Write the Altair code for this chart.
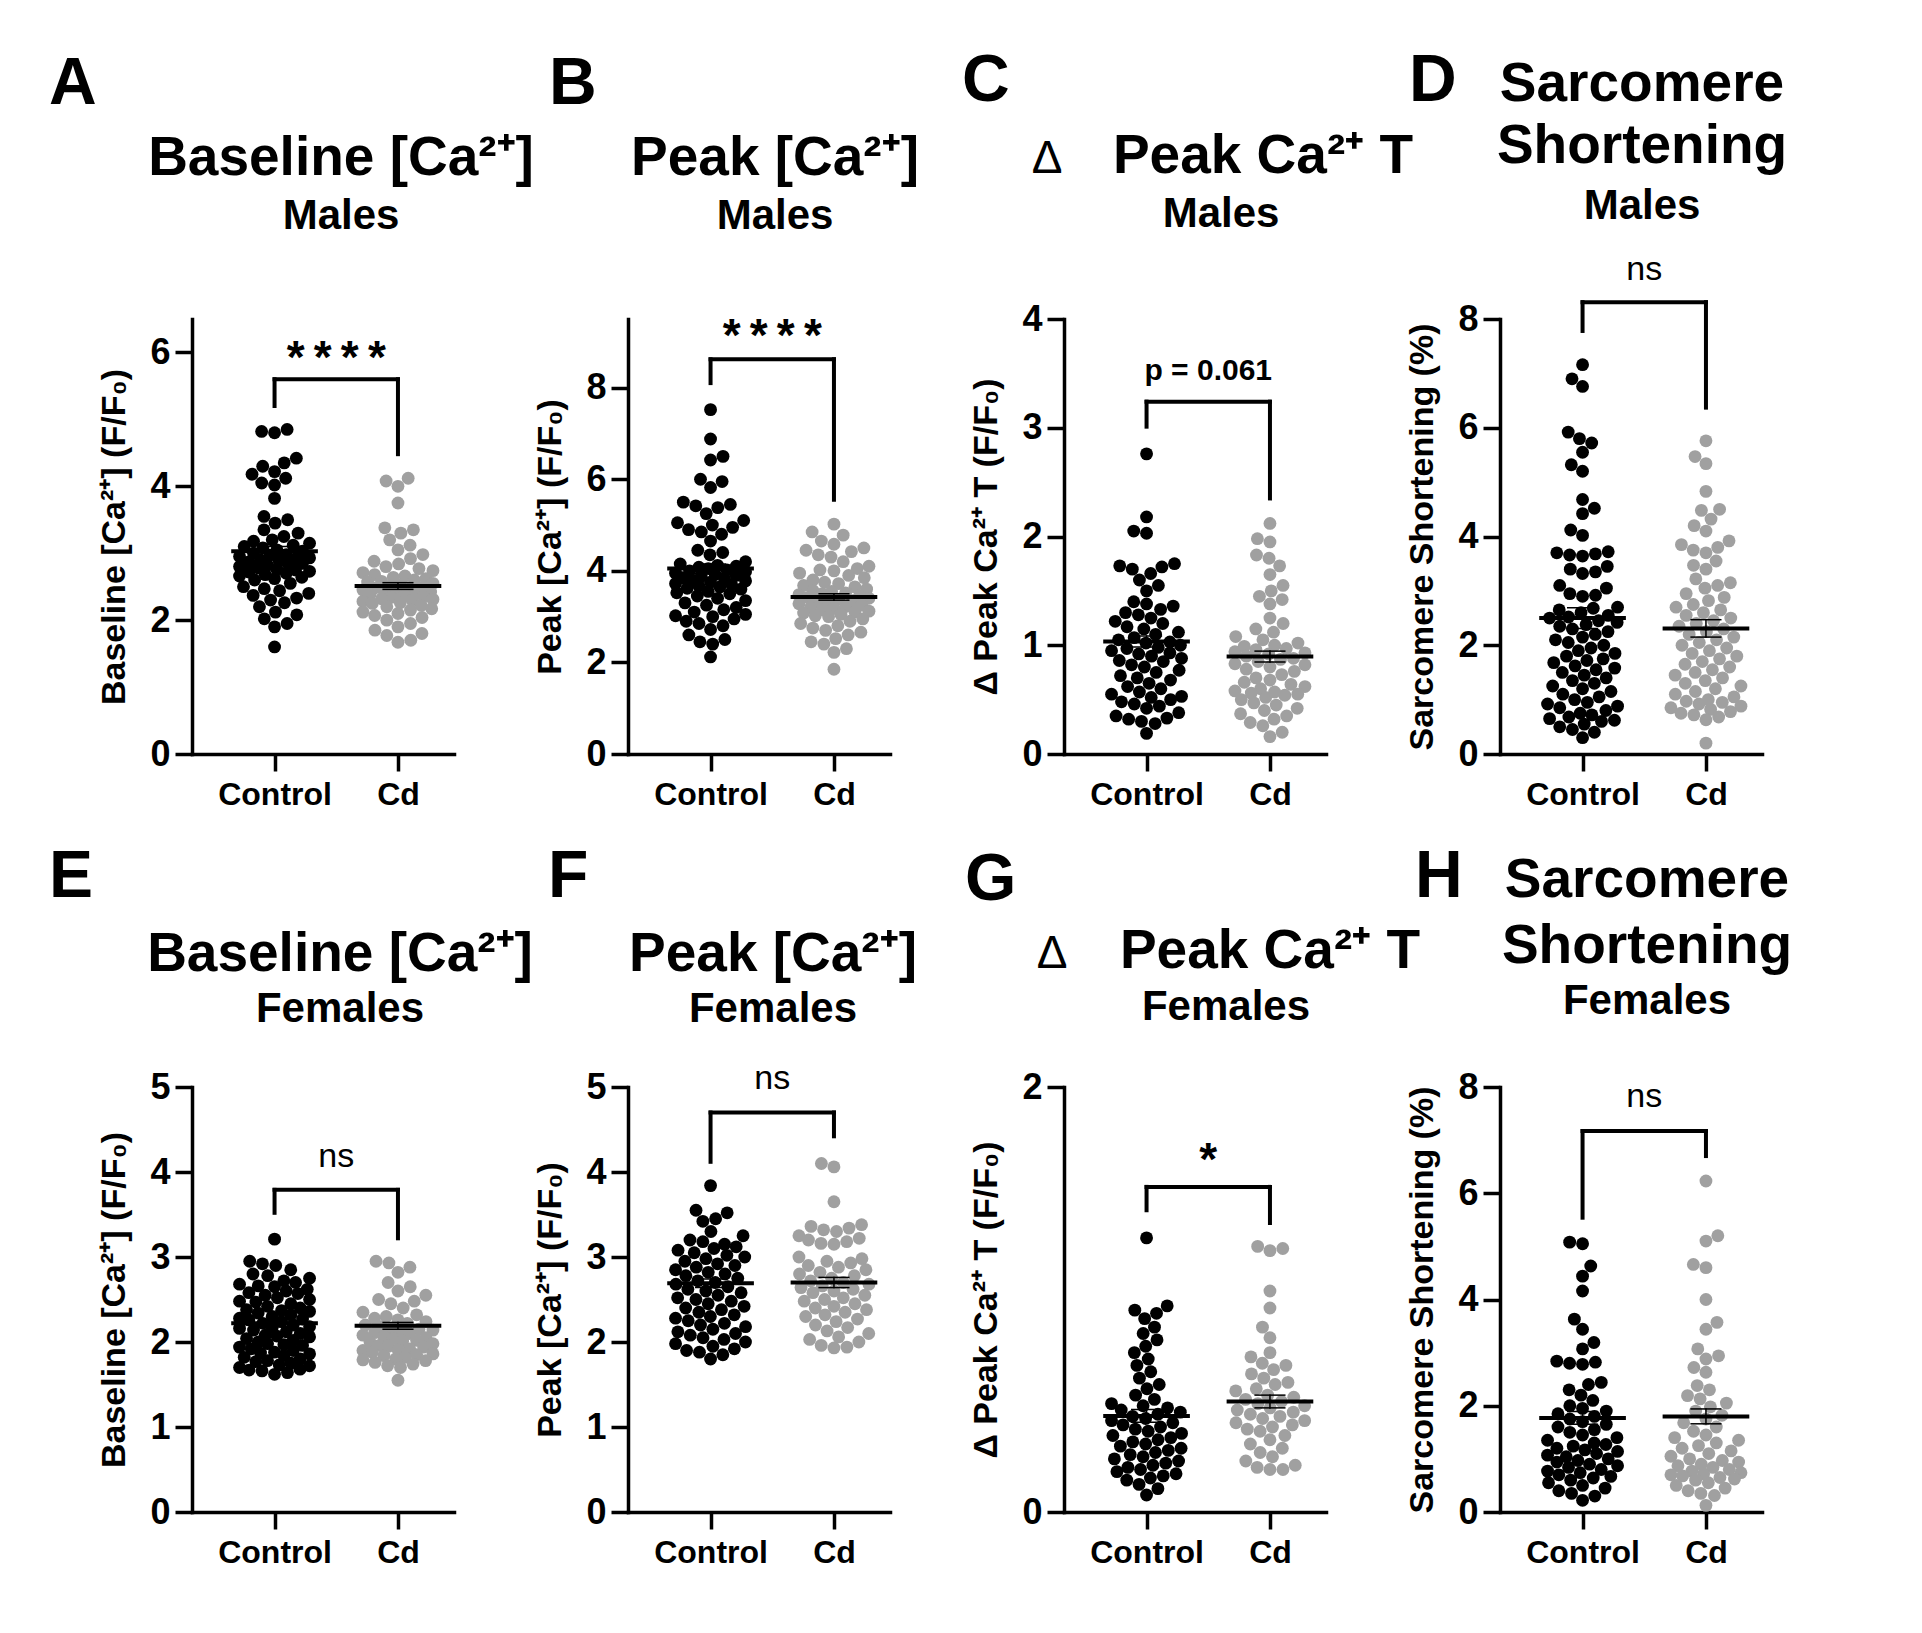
import math
import numpy as np
import pandas as pd
import altair as alt

# ---------------- data ----------------
GROUPS = ["Control", "Cd"]

# A  Baseline [Ca2+]  Males
a_control = [4.85, 4.82, 4.8, 4.42, 4.35, 4.3, 4.22, 4.18, 4.12, 4.05, 4.02, 3.82, 3.55, 3.5, 3.45,
             3.35, 3.3, 3.25, 3.2, 3.18, 3.15, 3.12, 3.1, 3.08, 3.05, 3.03, 3.0, 2.98, 2.97, 2.95,
             2.93, 2.92, 2.9, 2.88, 2.87, 2.85, 2.83, 2.82, 2.8, 2.78, 2.76, 2.75, 2.73, 2.72, 2.7,
             2.68, 2.66, 2.64, 2.62, 2.6, 2.55, 2.5, 2.47, 2.44, 2.4, 2.37, 2.33, 2.3, 2.26, 2.2,
             2.12, 2.08, 2.02, 1.95, 1.9, 1.6]
a_cd = [4.12, 4.08, 4.0, 3.75, 3.38, 3.35, 3.3, 3.2, 3.12, 3.05, 2.98, 2.92, 2.88, 2.84, 2.8, 2.77,
        2.74, 2.71, 2.68, 2.66, 2.64, 2.62, 2.6, 2.58, 2.57, 2.55, 2.53, 2.51, 2.5, 2.48, 2.47, 2.45,
        2.44, 2.42, 2.41, 2.4, 2.38, 2.37, 2.35, 2.34, 2.32, 2.31, 2.3, 2.28, 2.26, 2.25, 2.22, 2.2,
        2.17, 2.15, 2.12, 2.1, 2.07, 2.04, 2.0, 1.95, 1.9, 1.85, 1.8, 1.77, 1.7, 1.67]
a_mean = [3.03, 2.51]
a_sem = [0.07, 0.05]
a_bracket = [5.2, 5.6, 4.48]
a_sig = "*\u2009*\u2009*\u2009*"
a_sig_y = 6.0

# B  Peak [Ca2+]  Males
b_control = [7.52, 6.88, 6.5, 6.42, 6.0, 5.95, 5.82, 5.5, 5.45, 5.42, 5.38, 5.25, 5.1, 5.05, 5.0,
             4.95, 4.9, 4.85, 4.8, 4.65, 4.45, 4.4, 4.35, 4.2, 4.15, 4.12, 4.1, 4.08, 4.05, 4.02,
             4.0, 3.98, 3.95, 3.92, 3.9, 3.88, 3.85, 3.82, 3.8, 3.78, 3.75, 3.72, 3.7, 3.67, 3.65,
             3.62, 3.6, 3.55, 3.52, 3.5, 3.45, 3.4, 3.35, 3.3, 3.25, 3.2, 3.15, 3.1, 3.05, 3.02,
             3.0, 2.95, 2.9, 2.85, 2.8, 2.72, 2.6, 2.5, 2.45, 2.4, 2.12]
b_cd = [5.02, 4.85, 4.78, 4.65, 4.58, 4.5, 4.45, 4.42, 4.35, 4.3, 4.2, 4.1, 4.05, 4.02, 4.0, 3.95,
        3.9, 3.85, 3.8, 3.75, 3.72, 3.68, 3.65, 3.6, 3.57, 3.55, 3.52, 3.5, 3.48, 3.45, 3.42, 3.4,
        3.38, 3.35, 3.32, 3.3, 3.28, 3.25, 3.22, 3.2, 3.18, 3.15, 3.12, 3.1, 3.08, 3.05, 3.02, 3.0,
        2.95, 2.9, 2.85, 2.8, 2.75, 2.7, 2.66, 2.6, 2.52, 2.45, 2.4, 2.3, 2.22, 1.85]
b_mean = [4.05, 3.43]
b_sem = [0.1, 0.07]
b_bracket = [8.1, 8.62, 5.55]
b_sig = "*\u2009*\u2009*\u2009*"
b_sig_y = 9.24

# C  delta Peak Ca2+ T  Males
c_control = [2.76, 2.18, 2.05, 2.03, 1.75, 1.73, 1.72, 1.7, 1.66, 1.6, 1.55, 1.5, 1.4, 1.38, 1.36,
             1.33, 1.3, 1.28, 1.25, 1.22, 1.2, 1.17, 1.15, 1.12, 1.1, 1.07, 1.05, 1.03, 1.02, 1.0,
             0.98, 0.97, 0.95, 0.93, 0.92, 0.9, 0.88, 0.86, 0.85, 0.82, 0.8, 0.77, 0.75, 0.72, 0.7,
             0.68, 0.65, 0.62, 0.6, 0.57, 0.55, 0.53, 0.52, 0.5, 0.48, 0.46, 0.44, 0.42, 0.38, 0.35,
             0.33, 0.32, 0.3, 0.28, 0.19]
c_cd = [2.12, 1.98, 1.95, 1.83, 1.8, 1.73, 1.65, 1.55, 1.5, 1.45, 1.42, 1.38, 1.25, 1.2, 1.15, 1.12,
        1.08, 1.05, 1.02, 1.0, 0.99, 0.97, 0.96, 0.94, 0.93, 0.92, 0.9, 0.88, 0.87, 0.85, 0.83, 0.82,
        0.8, 0.78, 0.76, 0.73, 0.7, 0.68, 0.66, 0.64, 0.62, 0.6, 0.58, 0.57, 0.56, 0.55, 0.54, 0.52,
        0.5, 0.47, 0.45, 0.42, 0.4, 0.37, 0.35, 0.32, 0.29, 0.26, 0.2, 0.16]
c_mean = [1.035, 0.896]
c_sem = [0.05, 0.05]
c_bracket = [3.01, 3.24, 2.35]
c_sig = "p = 0.061"
c_sig_y = 3.54

# D  Sarcomere shortening  Males
d_control = [7.16, 6.9, 6.76, 5.92, 5.8, 5.72, 5.55, 5.32, 5.2, 4.68, 4.52, 4.42, 4.12, 4.02, 3.72,
             3.7, 3.68, 3.66, 3.64, 3.45, 3.4, 3.35, 3.32, 3.1, 3.05, 2.95, 2.92, 2.9, 2.7, 2.68,
             2.65, 2.6, 2.55, 2.52, 2.5, 2.45, 2.42, 2.38, 2.35, 2.3, 2.25, 2.2, 2.15, 2.1, 2.05,
             2.0, 1.95, 1.9, 1.85, 1.8, 1.75, 1.72, 1.68, 1.62, 1.58, 1.55, 1.5, 1.45, 1.4, 1.35,
             1.3, 1.25, 1.2, 1.15, 1.1, 1.05, 1.0, 0.95, 0.92, 0.88, 0.85, 0.8, 0.75, 0.72, 0.68,
             0.65, 0.62, 0.6, 0.55, 0.5, 0.45, 0.4, 0.3]
d_cd = [5.76, 5.47, 5.34, 4.83, 4.5, 4.48, 4.32, 4.2, 4.1, 3.92, 3.85, 3.8, 3.75, 3.7, 3.55, 3.47,
        3.4, 3.22, 3.15, 3.1, 3.05, 2.95, 2.88, 2.82, 2.75, 2.7, 2.65, 2.6, 2.55, 2.5, 2.45, 2.4,
        2.35, 2.3, 2.25, 2.2, 2.15, 2.1, 2.05, 2.0, 1.95, 1.9, 1.85, 1.8, 1.75, 1.7, 1.65, 1.6,
        1.55, 1.5, 1.45, 1.4, 1.35, 1.3, 1.25, 1.2, 1.15, 1.1, 1.05, 1.0, 0.97, 0.95, 0.92, 0.88,
        0.85, 0.82, 0.78, 0.75, 0.72, 0.68, 0.63, 0.2]
d_mean = [2.5, 2.31]
d_sem = [0.19, 0.16]
d_bracket = [7.78, 8.31, 6.37]
d_sig = "ns"
d_sig_y = 8.88

# E  Baseline [Ca2+]  Females
e_control = [3.21, 2.95, 2.92, 2.9, 2.85, 2.8, 2.78, 2.75, 2.72, 2.7, 2.68, 2.66, 2.65, 2.62, 2.6,
             2.58, 2.57, 2.55, 2.52, 2.5, 2.48, 2.47, 2.45, 2.42, 2.4, 2.38, 2.37, 2.36, 2.34, 2.32,
             2.3, 2.28, 2.27, 2.26, 2.24, 2.22, 2.2, 2.18, 2.17, 2.16, 2.14, 2.12, 2.1, 2.08, 2.07,
             2.06, 2.04, 2.02, 2.0, 1.98, 1.97, 1.96, 1.94, 1.92, 1.9, 1.88, 1.87, 1.86, 1.84, 1.82,
             1.8, 1.78, 1.77, 1.75, 1.73, 1.72, 1.7, 1.68, 1.67, 1.66, 1.64, 1.62]
e_cd = [2.95, 2.93, 2.88, 2.82, 2.7, 2.65, 2.6, 2.55, 2.5, 2.48, 2.45, 2.4, 2.35,
        2.32, 2.3, 2.28, 2.26, 2.24, 2.22, 2.2, 2.18, 2.16, 2.15, 2.14, 2.12, 2.11, 2.1, 2.08, 2.06,
        2.05, 2.04, 2.02, 2.01, 2.0, 1.98, 1.96, 1.95, 1.94, 1.92, 1.91, 1.9, 1.88, 1.86, 1.85,
        1.84, 1.82, 1.8, 1.79, 1.78, 1.76, 1.74, 1.72, 1.7, 1.55]
e_mean = [2.22, 2.19]
e_sem = [0.04, 0.04]
e_bracket = [3.52, 3.79, 3.22]
e_sig = "ns"
e_sig_y = 4.16

# F  Peak [Ca2+]  Females
f_control = [3.84, 3.55, 3.52, 3.45, 3.42, 3.3, 3.25, 3.2, 3.18, 3.15, 3.12, 3.1, 3.08, 3.05, 3.02,
             3.0, 2.98, 2.95, 2.92, 2.9, 2.88, 2.85, 2.82, 2.8, 2.78, 2.75, 2.72, 2.7, 2.68, 2.65,
             2.62, 2.6, 2.58, 2.55, 2.52, 2.5, 2.48, 2.45, 2.42, 2.4, 2.38, 2.35, 2.32, 2.3, 2.28,
             2.25, 2.22, 2.2, 2.18, 2.15, 2.12, 2.1, 2.08, 2.05, 2.03, 2.0, 1.98, 1.95, 1.92, 1.9,
             1.88, 1.85, 1.8]
f_cd = [4.1, 4.06, 3.65, 3.38, 3.36, 3.34, 3.32, 3.3, 3.25, 3.22, 3.2, 3.18, 3.16, 3.15, 3.0, 2.98,
        2.95, 2.93, 2.9, 2.88, 2.85, 2.82, 2.8, 2.78, 2.75, 2.72, 2.7, 2.68, 2.66, 2.64, 2.62, 2.6,
        2.58, 2.55, 2.52, 2.5, 2.48, 2.45, 2.42, 2.4, 2.38, 2.35, 2.32, 2.3, 2.27, 2.24, 2.2, 2.17,
        2.13, 2.1, 2.06, 2.03, 2.0, 1.96, 1.94, 1.93]
f_mean = [2.69, 2.7]
f_sem = [0.05, 0.06]
f_bracket = [4.12, 4.7, 4.42]
f_sig = "ns"
f_sig_y = 5.08

# G  delta Peak Ca2+ T  Females
g_control = [1.29, 0.97, 0.95, 0.935, 0.91, 0.87, 0.84, 0.81, 0.78, 0.75, 0.72, 0.69, 0.66, 0.63,
             0.6, 0.58, 0.55, 0.53, 0.51, 0.5, 0.49, 0.48, 0.47, 0.46, 0.45, 0.44, 0.43, 0.42, 0.41,
             0.4, 0.39, 0.38, 0.37, 0.36, 0.35, 0.34, 0.33, 0.32, 0.31, 0.3, 0.29, 0.28, 0.27, 0.26,
             0.25, 0.24, 0.23, 0.22, 0.21, 0.2, 0.19, 0.18, 0.17, 0.16, 0.15, 0.13, 0.11, 0.08]
g_cd = [1.25, 1.24, 1.23, 1.04, 0.96, 0.87, 0.82, 0.75, 0.73, 0.7, 0.69, 0.67, 0.65, 0.63, 0.61,
        0.6, 0.58, 0.57, 0.55, 0.54, 0.53, 0.52, 0.51, 0.5, 0.49, 0.48, 0.47, 0.46, 0.45, 0.44, 0.43,
        0.42, 0.41, 0.4, 0.39, 0.38, 0.36, 0.34, 0.32, 0.3, 0.28, 0.26, 0.24, 0.22, 0.21, 0.2, 0.2]
g_mean = [0.452, 0.52]
g_sem = [0.03, 0.03]
g_bracket = [1.42, 1.53, 1.36]
g_sig = "*"
g_sig_y = 1.68

# H  Sarcomere shortening  Females
h_control = [5.08, 5.05, 4.63, 4.44, 4.16, 3.63, 3.44, 3.19, 3.07, 2.84, 2.82, 2.8, 2.78, 2.44, 2.4,
             2.3, 2.2, 2.1, 2.0, 1.95, 1.9, 1.85, 1.8, 1.75, 1.7, 1.65, 1.6, 1.55, 1.5, 1.45, 1.4,
             1.35, 1.3, 1.27, 1.24, 1.2, 1.17, 1.14, 1.1, 1.07, 1.04, 1.0, 0.97, 0.94, 0.9, 0.87,
             0.84, 0.8, 0.77, 0.74, 0.7, 0.67, 0.64, 0.6, 0.55, 0.5, 0.45, 0.4, 0.35, 0.3, 0.22]
h_cd = [6.23, 5.2, 5.1, 4.66, 4.6, 4.0, 3.57, 3.44, 3.07, 2.94, 2.88, 2.72, 2.63, 2.38, 2.3, 2.19,
        2.13, 2.05, 1.98, 1.9, 1.82, 1.75, 1.68, 1.6, 1.52, 1.45, 1.4, 1.35, 1.3, 1.25, 1.2, 1.15,
        1.1, 1.05, 1.0, 0.97, 0.94, 0.9, 0.87, 0.84, 0.8, 0.77, 0.74, 0.72, 0.7, 0.68, 0.65, 0.62,
        0.6, 0.55, 0.5, 0.45, 0.4, 0.35, 0.31, 0.125]
h_mean = [1.77, 1.8]
h_sem = [0.12, 0.14]
h_bracket = [5.54, 7.17, 6.7]
h_sig = "ns"
h_sig_y = 7.79

Y_BASE = "Baseline [Ca²⁺] (F/F₀)"
Y_PEAK = "Peak [Ca²⁺] (F/F₀)"
Y_DELTA = "Δ Peak Ca²⁺ T (F/F₀)"
Y_SARC = "Sarcomere Shortening (%)"

# ---------------- styling / layout ----------------
FONT = "Liberation Sans"
COLORS = ["#000000", "#a0a0a0"]
W = 262
H_TOP = 435
H_BOT = 425
X_DOM = [0.331, 0.331 + 262 / 123.4]
PPC = W / (X_DOM[1] - X_DOM[0])
DOT = 165
GAP = 13.0
MAXW = 35.0
MEAN_HALF = 0.335
CAP_HALF = 0.12

# glyph-centre height above the baseline, as a fraction of the font size
SIG_STYLE = {"*\u2009*\u2009*\u2009*": (46, "bold", 0.44), "*": (46, "bold", 0.44),
             "ns": (34, "normal", 0.26), "p = 0.061": (30, "bold", 0.36)}


def swarm_offsets(vals, ppu, gap, maxw):
    ys = np.asarray(vals, float) * ppu
    order = np.argsort(ys, kind="stable")
    py, px = [], []
    out = np.zeros(len(ys))
    flip = 1.0
    grid = np.linspace(-maxw, maxw, 31)
    for i in order:
        y = ys[i]
        ivs = []
        near = []
        for yj, xj in zip(py, px):
            dy = abs(y - yj)
            if dy < gap:
                w = math.sqrt(gap * gap - dy * dy)
                ivs.append((xj - w, xj + w))
                near.append((xj, dy))
        cands = [0.0]
        for a, b in ivs:
            cands += [a, b]
        cands = [c for c in cands if abs(c) <= maxw + 1e-9]
        cands.sort(key=lambda c: (round(abs(c), 6), -flip * c))
        chosen = None
        for c in cands:
            if all(not (a + 1e-6 < c < b - 1e-6) for a, b in ivs):
                chosen = c
                break
        if chosen is None:
            best, best_score = 0.0, None
            for gx in grid:
                md = min(math.hypot(gx - xj, dy) for xj, dy in near)
                score = (round(md, 4), -abs(gx), -flip * gx)
                if best_score is None or score > best_score:
                    best, best_score = gx, score
            chosen = float(best)
        if chosen != 0.0:
            flip = -flip
        out[i] = chosen
        py.append(y)
        px.append(chosen)
    return out


panels = [
    dict(c=a_control, d=a_cd, mean=a_mean, sem=a_sem, br=a_bracket, sig=a_sig, sig_y=a_sig_y,
         ymax=6.5, ticks=[0, 2, 4, 6], ytitle=Y_BASE),
    dict(c=b_control, d=b_cd, mean=b_mean, sem=b_sem, br=b_bracket, sig=b_sig, sig_y=b_sig_y,
         ymax=9.5, ticks=[0, 2, 4, 6, 8], ytitle=Y_PEAK),
    dict(c=c_control, d=c_cd, mean=c_mean, sem=c_sem, br=c_bracket, sig=c_sig, sig_y=c_sig_y,
         ymax=4, ticks=[0, 1, 2, 3, 4], ytitle=Y_DELTA),
    dict(c=d_control, d=d_cd, mean=d_mean, sem=d_sem, br=d_bracket, sig=d_sig, sig_y=d_sig_y,
         ymax=8, ticks=[0, 2, 4, 6, 8], ytitle=Y_SARC),
    dict(c=e_control, d=e_cd, mean=e_mean, sem=e_sem, br=e_bracket, sig=e_sig, sig_y=e_sig_y,
         ymax=5, ticks=[0, 1, 2, 3, 4, 5], ytitle=Y_BASE),
    dict(c=f_control, d=f_cd, mean=f_mean, sem=f_sem, br=f_bracket, sig=f_sig, sig_y=f_sig_y,
         ymax=5, ticks=[0, 1, 2, 3, 4, 5], ytitle=Y_PEAK),
    dict(c=g_control, d=g_cd, mean=g_mean, sem=g_sem, br=g_bracket, sig=g_sig, sig_y=g_sig_y,
         ymax=2, ticks=[0, 1, 2], ytitle=Y_DELTA),
    dict(c=h_control, d=h_cd, mean=h_mean, sem=h_sem, br=h_bracket, sig=h_sig, sig_y=h_sig_y,
         ymax=8, ticks=[0, 2, 4, 6, 8], ytitle=Y_SARC),
]

# annotation text layout (pixel offsets from the plot's top-left corner)
T, S = 55, 42
layouts = [
    dict(letter=("A", -143, -215), lines=[("Baseline [Ca²⁺]", 149, -144, T, "bold"), ("Males", 149, -90, S, "bold")]),
    dict(letter=("B", -79, -215), lines=[("Peak [Ca²⁺]", 147, -144, T, "bold"), ("Males", 147, -90, S, "bold")]),
    dict(letter=("C", -102, -218), lines=[("Δ", -17, -146, 46, "normal"), ("Peak Ca²⁺ T", 199, -146, T, "bold"),
                                          ("Males", 157, -92, S, "bold")]),
    dict(letter=("D", -91, -218), lines=[("Sarcomere", 142, -218, T, "bold"), ("Shortening", 142, -156, T, "bold"),
                                         ("Males", 142, -100, S, "bold")]),
    dict(letter=("E", -143, -190), lines=[("Baseline [Ca²⁺]", 148, -116, T, "bold"), ("Females", 148, -65, S, "bold")]),
    dict(letter=("F", -80, -190), lines=[("Peak [Ca²⁺]", 145, -116, T, "bold"), ("Females", 145, -65, S, "bold")]),
    dict(letter=("G", -99, -187), lines=[("Δ", -12, -119, 46, "normal"), ("Peak Ca²⁺ T", 206, -119, T, "bold"),
                                         ("Females", 162, -67, S, "bold")]),
    dict(letter=("H", -85, -190), lines=[("Sarcomere", 147, -190, T, "bold"), ("Shortening", 147, -124, T, "bold"),
                                         ("Females", 147, -73, S, "bold")]),
]


def text_at(txt, dx, dy, size, weight, align="center"):
    return alt.Chart(pd.DataFrame({"t": [txt]})).mark_text(
        fontSize=size, fontWeight=weight, align=align, baseline="alphabetic", color="black"
    ).encode(x=alt.value(dx), y=alt.value(dy), text="t:N")


def build(p, lay, h):
    ppu = h / p["ymax"]
    xs = alt.Scale(domain=X_DOM, nice=False, zero=False)
    ys = alt.Scale(domain=[0, p["ymax"]], nice=False, zero=False)
    rows = []
    for gi, g in enumerate(GROUPS):
        vals = p["c"] if gi == 0 else p["d"]
        offs = swarm_offsets(vals, ppu, GAP, MAXW)
        for v, o in zip(vals, offs):
            rows.append(dict(group=g, value=v, x=gi + 1 + o / PPC))
    pts = pd.DataFrame(rows)

    xaxis = alt.Axis(values=[1, 2], labelExpr="datum.value == 1 ? 'Control' : 'Cd'", title=None,
                     labelFontSize=32, labelPadding=8)
    yaxis = alt.Axis(values=p["ticks"], format="d", title=p["ytitle"], labelFontSize=36,
                     labelPadding=5, titleFontSize=34, titlePadding=18)
    points = alt.Chart(pts).mark_circle(size=DOT, opacity=1).encode(
        x=alt.X("x:Q", scale=xs, axis=xaxis),
        y=alt.Y("value:Q", scale=ys, axis=yaxis),
        color=alt.Color("group:N", scale=alt.Scale(domain=GROUPS, range=COLORS), legend=None),
    )

    pos = np.array([1.0, 2.0])
    mean = np.array(p["mean"], float)
    sem = np.array(p["sem"], float)
    mean_df = pd.DataFrame(dict(x=pos - MEAN_HALF, x2=pos + MEAN_HALF, value=mean, value2=mean))
    sem_df = pd.DataFrame(dict(
        x=np.concatenate([pos, pos - CAP_HALF, pos - CAP_HALF]),
        x2=np.concatenate([pos, pos + CAP_HALF, pos + CAP_HALF]),
        value=np.concatenate([mean - sem, mean + sem, mean - sem]),
        value2=np.concatenate([mean + sem, mean + sem, mean - sem]),
    ))
    b = p["br"]
    br_df = pd.DataFrame(dict(x=[1.0, 1.0, 2.0], x2=[1.0, 2.0, 2.0],
                              value=[b[0], b[1], b[2]], value2=[b[1], b[1], b[1]]))

    def rules(df, width):
        return alt.Chart(df).mark_rule(color="black", strokeWidth=width, strokeCap="square").encode(
            x=alt.X("x:Q", scale=xs), x2="x2:Q", y=alt.Y("value:Q", scale=ys), y2="value2:Q")

    fs, fw, fac = SIG_STYLE[p["sig"]]
    sig_df = pd.DataFrame(dict(x=[1.5], value=[p["sig_y"] - fac * fs / ppu], label=[p["sig"]]))
    sig = alt.Chart(sig_df).mark_text(fontSize=fs, fontWeight=fw, align="center",
                                      baseline="alphabetic", color="black").encode(
        x=alt.X("x:Q", scale=xs), y=alt.Y("value:Q", scale=ys), text="label:N")

    layers = [points, rules(sem_df, 1.5), rules(mean_df, 4), rules(br_df, 4), sig]
    L, lx, ly = lay["letter"]
    layers.append(text_at(L, lx, ly, 66, "bold", "left"))
    for txt, dx, dy, size, weight in lay["lines"]:
        layers.append(text_at(txt, dx, dy, size, weight))
    return alt.layer(*layers).properties(width=W, height=h)


charts = [build(panels[i], layouts[i], H_TOP if i < 4 else H_BOT) for i in range(8)]

chart = (
    alt.concat(*charts, columns=4, spacing={"row": 333, "column": 174}, bounds="flush")
    .properties(padding={"left": 41, "top": 40, "right": 20, "bottom": 20}, background="white")
    .configure(font=FONT)
    .configure_axis(domainColor="black", domainWidth=3.5, domainCap="square", tickColor="black",
                    tickWidth=3.5, tickSize=17, labelColor="black", labelFontWeight="bold",
                    labelFont=FONT, titleColor="black", titleFontWeight="bold", titleFont=FONT,
                    grid=False, labelOverlap=False, labelFlush=False)
    .configure_view(stroke=None)
)

chart.save("out.html", embed_options={"renderer": "svg", "actions": False})
